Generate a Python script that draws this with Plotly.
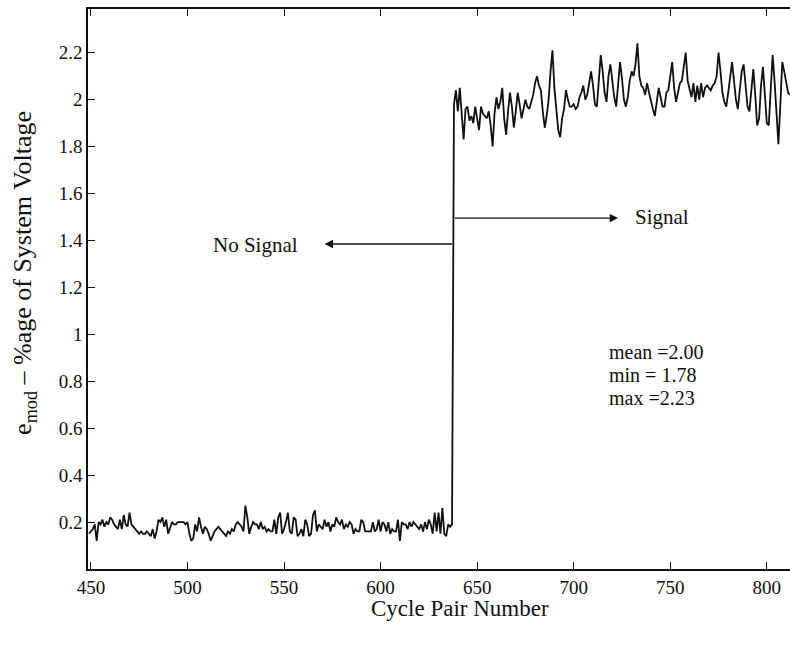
import plotly.graph_objects as go

# ---- data ----
low_start = 449
low_values = [
    0.15, 0.16, 0.17, 0.19, 0.12, 0.20, 0.19, 0.21, 0.18, 0.20,
    0.19, 0.22, 0.21, 0.19, 0.18, 0.17, 0.21, 0.17, 0.23, 0.19,
    0.18, 0.24, 0.19, 0.18, 0.17, 0.16, 0.15, 0.16, 0.15, 0.15,
    0.16, 0.15, 0.14, 0.17, 0.13, 0.16, 0.21, 0.20, 0.22, 0.18,
    0.21, 0.15, 0.18, 0.20, 0.19, 0.19, 0.20, 0.20, 0.20, 0.20,
    0.19, 0.20, 0.15, 0.12, 0.13, 0.19, 0.16, 0.22, 0.18, 0.15,
    0.18, 0.17, 0.15, 0.12, 0.14, 0.16, 0.17, 0.18, 0.17, 0.16,
    0.15, 0.14, 0.16, 0.15, 0.17, 0.16, 0.19, 0.20, 0.19, 0.18,
    0.16, 0.27, 0.22, 0.15, 0.18, 0.20, 0.19, 0.19, 0.17, 0.20,
    0.17, 0.18, 0.16, 0.17, 0.16, 0.16, 0.21, 0.15, 0.22, 0.24,
    0.15, 0.17, 0.20, 0.24, 0.16, 0.15, 0.22, 0.21, 0.14, 0.15,
    0.17, 0.14, 0.21, 0.19, 0.14, 0.15, 0.23, 0.25, 0.16, 0.19,
    0.18, 0.17, 0.21, 0.18, 0.20, 0.16, 0.19, 0.18, 0.22, 0.20,
    0.19, 0.21, 0.17, 0.19, 0.18, 0.20, 0.19, 0.15, 0.17, 0.16,
    0.16, 0.21, 0.20, 0.16, 0.16, 0.16, 0.16, 0.20, 0.16, 0.17,
    0.21, 0.16, 0.20, 0.19, 0.16, 0.20, 0.15, 0.17, 0.16, 0.16,
    0.21, 0.12, 0.20, 0.19, 0.19, 0.17, 0.20, 0.18, 0.20, 0.19,
    0.18, 0.17, 0.19, 0.16, 0.20, 0.17, 0.21, 0.19, 0.15, 0.24,
    0.16, 0.24, 0.15, 0.26, 0.15, 0.14, 0.19, 0.18, 0.19,
]
high_values = [
    1.98, 2.04, 1.95, 2.05, 1.92, 1.83, 1.96, 1.97, 1.91, 1.93,
    1.90, 1.97, 1.92, 1.87, 1.97, 1.94, 1.93, 1.92, 1.95, 1.89,
    1.80, 1.94, 2.01, 1.96, 1.99, 2.05, 1.92, 1.85, 1.95, 2.03,
    1.97, 1.88, 1.95, 2.03, 1.98, 1.92, 1.96, 2.00, 1.97, 1.96,
    1.99, 2.02, 2.07, 2.10, 2.06, 2.04, 1.95, 1.88, 1.93, 2.00,
    2.12, 2.21, 2.05, 1.95, 1.87, 1.84, 1.92, 1.96, 2.04, 2.00,
    1.97, 1.97, 1.98, 1.96, 1.97, 2.01, 2.03, 2.06, 2.00, 2.02,
    2.08, 2.12, 2.06, 1.98, 1.97, 2.10, 2.19, 2.12, 2.03, 1.99,
    2.10, 2.15, 2.08, 2.01, 1.97, 2.08, 2.16, 2.09, 2.00, 1.97,
    2.01, 2.08, 2.12, 2.10, 2.15, 2.24, 2.10, 2.06, 2.05, 2.02,
    2.07, 2.03, 1.99, 1.96, 1.93, 2.00, 2.05, 2.01, 1.97, 1.97,
    2.03, 2.04, 2.10, 2.16, 2.05, 1.99, 2.03, 2.07, 2.08, 2.14,
    2.20, 2.08, 2.05, 2.01, 2.07, 1.99, 2.06, 2.00, 2.07, 2.01,
    2.05, 2.06, 2.05, 2.04, 2.06, 2.07, 2.10, 2.20, 2.12, 2.03,
    1.99, 1.97, 2.03, 2.10, 2.16, 2.08, 2.00, 1.96, 2.04, 2.12,
    2.15, 2.05, 1.97, 1.95, 2.05, 2.13, 2.02, 1.89, 1.92, 2.06,
    2.14, 2.03, 1.90, 1.89, 2.05, 2.19, 2.08, 1.92, 1.81, 1.98,
    2.16, 2.12, 2.07, 2.03, 2.02,
]
values = low_values + high_values
cycles = list(range(low_start, low_start + len(values)))

x_ticks = [450, 500, 550, 600, 650, 700, 750, 800]
y_ticks = [0.2, 0.4, 0.6, 0.8, 1.0, 1.2, 1.4, 1.6, 1.8, 2.0, 2.2]
y_tick_text = ["0.2", "0.4", "0.6", "0.8", "1", "1.2", "1.4", "1.6", "1.8", "2", "2.2"]

step_x = 637.7
stats_lines = ["mean =2.00", "min = 1.78", "max =2.23"]
stats_y = [0.925, 0.828, 0.730]

FONT = "Liberation Serif, Times New Roman, serif"
INK = "#111111"

fig = go.Figure()
fig.add_trace(go.Scatter(
    x=cycles, y=values, mode="lines",
    line=dict(color=INK, width=1.8),
    showlegend=False, hoverinfo="skip",
))

# arrows
fig.add_annotation(x=571, y=1.385, ax=step_x, ay=1.385, xref="x", yref="y",
                   axref="x", ayref="y", text="", showarrow=True,
                   arrowhead=2, arrowsize=1.2, arrowwidth=1.4, arrowcolor=INK)
fig.add_annotation(x=723, y=1.495, ax=step_x, ay=1.495, xref="x", yref="y",
                   axref="x", ayref="y", text="", showarrow=True,
                   arrowhead=2, arrowsize=1.2, arrowwidth=1.4, arrowcolor=INK)
fig.add_annotation(x=535, y=1.38, xref="x", yref="y", text="No Signal",
                   showarrow=False, font=dict(family=FONT, size=21, color=INK))
fig.add_annotation(x=730.5, y=1.5, xref="x", yref="y", text="Signal", xanchor="left",
                   showarrow=False, font=dict(family=FONT, size=21, color=INK))
for line_text, ly in zip(stats_lines, stats_y):
    fig.add_annotation(x=717, y=ly, xref="x", yref="y", text=line_text,
                       xanchor="left", showarrow=False,
                       font=dict(family=FONT, size=20, color=INK))
# axis titles as annotations (the original plot area is cropped at the right)
fig.add_annotation(x=641, y=-0.07, xref="x", yref="paper", text="Cycle Pair Number",
                   showarrow=False, yanchor="middle",
                   font=dict(family=FONT, size=23, color=INK))
fig.add_annotation(x=-0.091, y=0.529, xref="paper", yref="paper", textangle=-90,
                   text="e<sub>mod</sub> – %age of System Voltage",
                   showarrow=False, xanchor="center", yanchor="middle",
                   font=dict(family=FONT, size=26, color=INK))

fig.update_layout(
    width=790, height=650,
    margin=dict(l=88, r=0, t=9, b=81, autoexpand=False),
    paper_bgcolor="white", plot_bgcolor="white",
    font=dict(family=FONT, size=18, color=INK),
    xaxis=dict(
        range=[448.5, 812], tickvals=x_ticks, ticks="inside", ticklen=7,
        tickcolor=INK, showline=True, linecolor=INK, linewidth=1.5,
        mirror="ticks", showgrid=False, zeroline=False,
        tickfont=dict(family=FONT, size=19), automargin=False,
    ),
    yaxis=dict(
        range=[0, 2.386], tickvals=y_ticks, ticktext=y_tick_text, ticks="inside",
        ticklen=7, tickcolor=INK, showline=True, linecolor=INK,
        linewidth=1.5, mirror=False, showgrid=False, zeroline=False,
        tickfont=dict(family=FONT, size=19), automargin=False,
    ),
)

# remove the default 8px page margin so the figure fills the 790x650 window
fig.write_html("out.html",
               config={"displayModeBar": False},
               post_script="document.body.style.margin='0';"
                           "document.body.style.overflow='hidden';")
